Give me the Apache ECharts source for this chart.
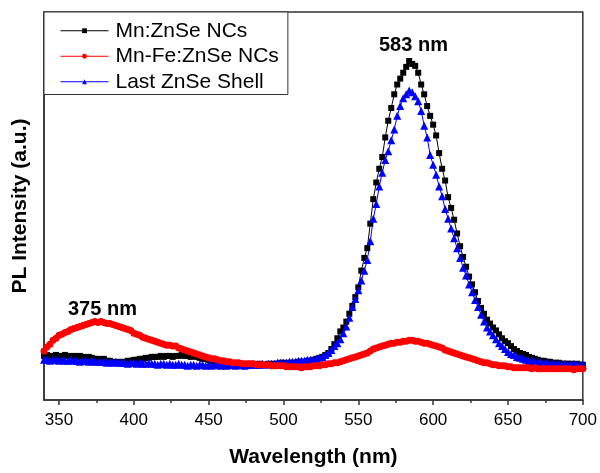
<!DOCTYPE html>
<html>
<head>
    <meta charset="UTF-8">
    <title>PL spectra</title>
    <script src="https://cdn.jsdelivr.net/npm/echarts@6/dist/echarts.min.js"></script>
    <style>
        body, html {
            margin: 0;
            padding: 0;
            background: #fff;
        }

        #pl {
            width: 600px;
            height: 473px;
        }
    </style>
</head>
<body>
<div id="pl"></div>
<script>
    // wavelength grid of the spectrometer: 340..700 nm, 2 nm step
    var wavelengths = [];
    for (var w = 340; w <= 700; w += 2) wavelengths.push(w);

    var majorTicks = [350, 400, 450, 500, 550, 600, 650, 700];
    var minorTicks = [375, 425, 475, 525, 575, 625, 675];

    // intensities (arbitrary units)
    var mnZnSe = [
        45, 46, 44, 45, 46, 45, 44, 46, 45, 44,
        45, 44, 45, 44, 43, 44, 43, 42, 42, 41,
        42, 40, 40, 39, 38, 39, 38, 39, 40, 40,
        41, 41, 42, 42, 43, 43, 44, 44, 44, 45,
        44, 45, 45, 44, 45, 45, 46, 45, 45, 44,
        45, 44, 43, 42, 42, 41, 40, 39, 38, 38,
        37, 37, 36, 37, 36, 36, 37, 36, 36, 37,
        36, 36, 37, 36, 36, 37, 36, 37, 37, 38,
        38, 37, 38, 38, 38, 39, 39, 39, 40, 40,
        41, 42, 43, 44, 46, 48, 52, 57, 63, 70,
        74, 80, 88, 96, 105, 115, 132, 145, 155, 180,
        205, 222, 236, 248, 268, 285, 298, 312, 322, 328,
        334, 340, 346, 343, 341, 334, 322, 312, 300, 290,
        281, 270, 252, 236, 224, 207, 196, 184, 170, 157,
        146, 136, 126, 118, 110, 101, 94, 88, 82, 78,
        74, 71, 67, 63, 60, 58, 55, 52, 50, 48,
        47, 46, 44, 43, 42, 41, 40, 40, 39, 39,
        38, 38, 38, 37, 37, 37, 37, 36, 37, 36,
        36
    ];
    var mnFeZnSe = [
        50, 54, 57, 61, 63, 66, 67, 69, 70, 72,
        73, 74, 75, 76, 77, 78, 79, 80, 79, 80,
        79, 78, 78, 77, 76, 75, 74, 73, 72, 71,
        68, 67, 66, 64, 63, 62, 61, 60, 59, 58,
        57, 56, 56, 55, 55, 53, 52, 51, 50, 49,
        48, 47, 46, 45, 44, 43, 42, 42, 41, 40,
        40, 39, 39, 38, 38, 38, 37, 37, 37, 37,
        37, 36, 36, 36, 36, 36, 35, 35, 35, 35,
        35, 34, 34, 34, 34, 34, 33, 34, 34, 34,
        35, 35, 35, 36, 36, 37, 37, 38, 38, 39,
        40, 41, 42, 43, 44, 45, 46, 47, 48, 50,
        52, 53, 54, 55, 56, 57, 58, 58, 59, 59,
        60, 60, 61, 61, 60, 60, 59, 58, 58, 57,
        56, 55, 54, 53, 51, 50, 49, 48, 47, 46,
        45, 44, 43, 42, 41, 40, 39, 38, 38, 37,
        36, 36, 35, 35, 35, 34, 34, 33, 33, 33,
        33, 33, 33, 32, 33, 32, 32, 32, 32, 32,
        32, 32, 32, 32, 32, 32, 32, 31, 32, 32,
        32
    ];
    var lastShell = [
        41, 41, 40, 41, 41, 40, 41, 40, 40, 41,
        40, 40, 39, 40, 40, 39, 40, 39, 39, 39,
        39, 38, 39, 38, 39, 38, 38, 38, 37, 38,
        38, 37, 38, 37, 37, 38, 37, 37, 36, 37,
        37, 36, 37, 36, 36, 37, 36, 36, 35, 36,
        36, 35, 36, 36, 35, 36, 35, 36, 36, 35,
        36, 35, 36, 36, 35, 36, 36, 35, 36, 36,
        36, 36, 36, 37, 36, 37, 37, 37, 38, 38,
        38, 38, 39, 39, 39, 40, 40, 40, 41, 41,
        41, 42, 43, 44, 46, 48, 51, 55, 58, 62,
        68, 75, 84, 95, 103, 112, 122, 132, 143, 162,
        185, 200, 218, 232, 245, 254, 265, 276, 290, 300,
        308, 312, 316, 314, 310, 305, 295, 280, 268, 250,
        240, 230, 218, 208, 195, 185, 175, 165, 155, 145,
        135, 127, 118, 110, 102, 95, 87, 80, 74, 70,
        66, 62, 58, 55, 52, 49, 47, 46, 44, 43,
        42, 41, 40, 40, 39, 39, 38, 38, 38, 37,
        37, 37, 37, 36, 37, 36, 36, 37, 36, 36,
        36
    ];

    function pairs(values) {
        return wavelengths.map(function (w, i) { return [w, values[i]]; });
    }

    var font = 'Arial, "Liberation Sans", sans-serif';
    var chart = echarts.init(document.getElementById('pl'));

    var option = {
        animation: false,
        backgroundColor: '#fff',
        textStyle: { fontFamily: font },
        grid: {
            left: 44, right: 17, top: 12, bottom: 65,
            show: true, borderColor: '#333', borderWidth: 1.5
        },
        legend: {
            data: ['Mn:ZnSe NCs', 'Mn-Fe:ZnSe NCs', 'Last ZnSe Shell'],
            orient: 'vertical',
            left: 44, top: 12,
            padding: [6, 9, 0, 16],
            itemWidth: 48,
            itemHeight: 6,
            itemGap: 0,
            borderColor: '#333',
            borderWidth: 1,
            backgroundColor: '#fff',
            lineStyle: { width: 1 },
            textStyle: { fontSize: 21, lineHeight: 25.5, color: '#000', fontFamily: font, padding: [0, 0, 0, 2] }
        },
        xAxis: [{
            type: 'value', min: 340, max: 700,
            name: 'Wavelength (nm)', nameLocation: 'middle', nameGap: 47,
            nameTextStyle: { fontSize: 21, fontWeight: 'bold', color: '#000' },
            axisLine: { lineStyle: { color: '#333', width: 1.5 } },
            axisTick: { show: true, length: 5, customValues: majorTicks, lineStyle: { color: '#333', width: 1.5 } },
            axisLabel: { customValues: majorTicks, fontSize: 17, color: '#000', margin: 12 },
            splitLine: { show: false }
        }, {
            type: 'value', min: 340, max: 700, position: 'bottom',
            axisLine: { show: false },
            axisTick: { show: true, length: 3, customValues: minorTicks, lineStyle: { color: '#333', width: 1.5 } },
            axisLabel: { show: false },
            splitLine: { show: false }
        }],
        yAxis: {
            type: 'value', min: 0, max: 396,
            name: 'PL Intensity (a.u.)', nameLocation: 'middle', nameGap: 13,
            nameTextStyle: { fontSize: 21, fontWeight: 'bold', color: '#000' },
            axisLine: { show: true, lineStyle: { color: '#333', width: 1.5 } },
            axisTick: { show: false },
            axisLabel: { show: false },
            splitLine: { show: false }
        },
        graphic: [
            { type: 'text', left: 379, top: 35, style: { text: '583 nm', font: 'bold 20px ' + font, fill: '#000' } },
            { type: 'text', left: 68, top: 299, style: { text: '375 nm', font: 'bold 20px ' + font, fill: '#000' } }
        ],
        series: [{
            name: 'Mn:ZnSe NCs', type: 'line', data: pairs(mnZnSe),
            symbol: 'rect', symbolSize: 6,
            lineStyle: { color: '#000', width: 1 },
            itemStyle: { color: '#000' }
        }, {
            name: 'Last ZnSe Shell', type: 'line', data: pairs(lastShell),
            symbol: 'triangle', symbolSize: 8,
            lineStyle: { color: '#0000ff', width: 1 },
            itemStyle: { color: '#0000ff' }
        }, {
            name: 'Mn-Fe:ZnSe NCs', type: 'line', data: pairs(mnFeZnSe),
            symbol: 'circle', symbolSize: 7,
            lineStyle: { color: '#ff0000', width: 1 },
            itemStyle: { color: '#ff0000' }
        }]
    };
    chart.setOption(option);
</script>
</body>
</html>
